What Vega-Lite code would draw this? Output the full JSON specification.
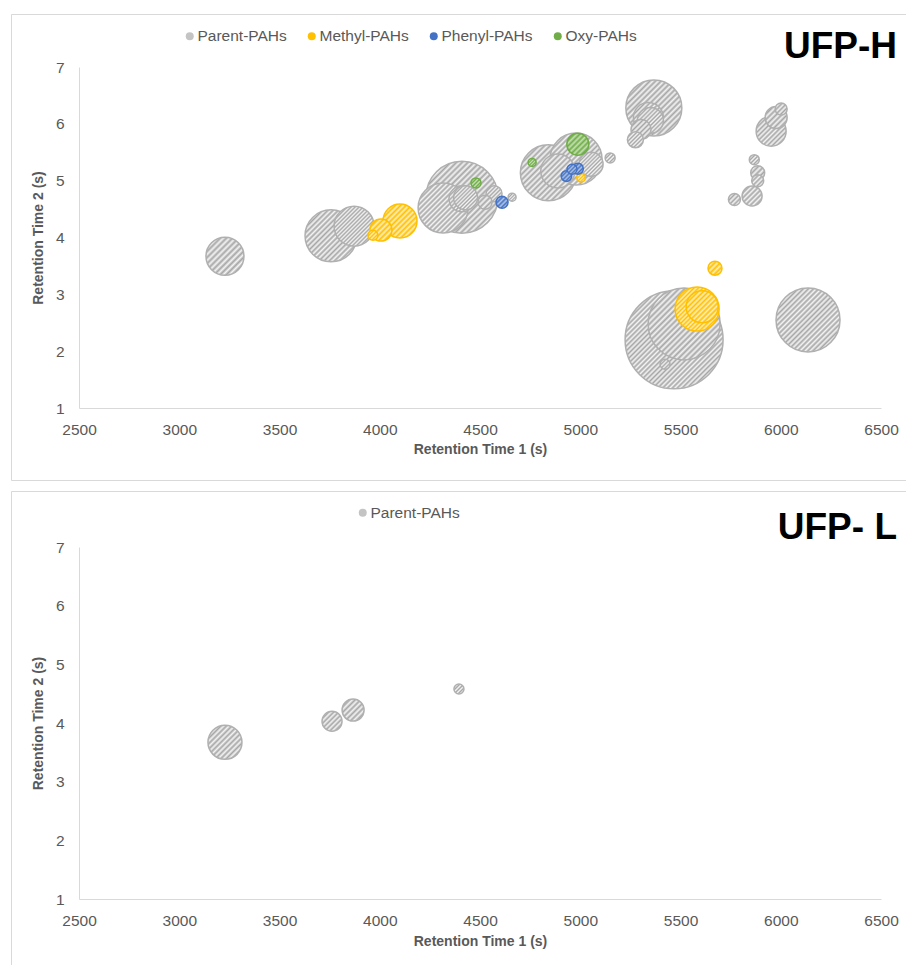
{
  "$schema": "https://vega.github.io/schema/vega-lite/v6.json",
  "background": "#ffffff",
  "padding": {"left": 10, "top": 13, "right": 0, "bottom": 0},
  "spacing": 9,
  "config": {
    "font": "Liberation Sans, Arial, sans-serif",
    "view": {"stroke": "#d9d9d9", "strokeWidth": 1},
    "axis": {
      "grid": false,
      "ticks": false,
      "tickSize": 0,
      "domainColor": "#d9d9d9",
      "domainWidth": 1,
      "labelFont": "Liberation Sans, Arial, sans-serif",
      "labelFontSize": 15.5,
      "labelColor": "#595959",
      "labelFlush": false,
      "labelOverlap": false,
      "titleFont": "Liberation Sans, Arial, sans-serif",
      "titleFontSize": 14,
      "titleFontWeight": "bold",
      "titleColor": "#595959"
    },
    "legend": {
      "labelFont": "Liberation Sans, Arial, sans-serif",
      "labelFontSize": 15.5,
      "labelColor": "#595959"
    }
  },
  "datasets": {
    "ufpH": [
      {"group": "Parent-PAHs", "rt1": 3228, "rt2": 3.67, "abundance": 3.61},
      {"group": "Parent-PAHs", "rt1": 3757, "rt2": 4.03, "abundance": 6.76},
      {"group": "Parent-PAHs", "rt1": 3872, "rt2": 4.2, "abundance": 4.0},
      {"group": "Parent-PAHs", "rt1": 4316, "rt2": 4.52, "abundance": 6.25},
      {"group": "Parent-PAHs", "rt1": 4410, "rt2": 4.71, "abundance": 12.96},
      {"group": "Parent-PAHs", "rt1": 4410, "rt2": 4.68, "abundance": 1.69},
      {"group": "Parent-PAHs", "rt1": 4428, "rt2": 4.7, "abundance": 1.44},
      {"group": "Parent-PAHs", "rt1": 4525, "rt2": 4.62, "abundance": 0.49},
      {"group": "Parent-PAHs", "rt1": 4570, "rt2": 4.77, "abundance": 0.64},
      {"group": "Parent-PAHs", "rt1": 4660, "rt2": 4.71, "abundance": 0.16},
      {"group": "Parent-PAHs", "rt1": 4841, "rt2": 5.14, "abundance": 7.84},
      {"group": "Parent-PAHs", "rt1": 4979, "rt2": 5.38, "abundance": 6.76},
      {"group": "Parent-PAHs", "rt1": 4888, "rt2": 5.17, "abundance": 2.89},
      {"group": "Parent-PAHs", "rt1": 5054, "rt2": 5.29, "abundance": 1.44},
      {"group": "Parent-PAHs", "rt1": 5149, "rt2": 5.4, "abundance": 0.25},
      {"group": "Parent-PAHs", "rt1": 5367, "rt2": 6.28, "abundance": 7.84},
      {"group": "Parent-PAHs", "rt1": 5340, "rt2": 6.11, "abundance": 2.25},
      {"group": "Parent-PAHs", "rt1": 5350, "rt2": 6.06, "abundance": 1.69},
      {"group": "Parent-PAHs", "rt1": 5303, "rt2": 5.9, "abundance": 1.0},
      {"group": "Parent-PAHs", "rt1": 5275, "rt2": 5.72, "abundance": 0.64},
      {"group": "Parent-PAHs", "rt1": 6002, "rt2": 6.26, "abundance": 0.36},
      {"group": "Parent-PAHs", "rt1": 5977, "rt2": 6.11, "abundance": 1.21},
      {"group": "Parent-PAHs", "rt1": 5952, "rt2": 5.87, "abundance": 2.25},
      {"group": "Parent-PAHs", "rt1": 5868, "rt2": 5.37, "abundance": 0.25},
      {"group": "Parent-PAHs", "rt1": 5885, "rt2": 5.14, "abundance": 0.49},
      {"group": "Parent-PAHs", "rt1": 5885, "rt2": 5.0, "abundance": 0.36},
      {"group": "Parent-PAHs", "rt1": 5857, "rt2": 4.73, "abundance": 1.0},
      {"group": "Parent-PAHs", "rt1": 5769, "rt2": 4.67, "abundance": 0.36},
      {"group": "Parent-PAHs", "rt1": 5468, "rt2": 2.2, "abundance": 24.0},
      {"group": "Parent-PAHs", "rt1": 5518, "rt2": 2.48, "abundance": 12.96},
      {"group": "Parent-PAHs", "rt1": 5423, "rt2": 1.77, "abundance": 0.25},
      {"group": "Parent-PAHs", "rt1": 6136, "rt2": 2.55, "abundance": 10.24},
      {"group": "Methyl-PAHs", "rt1": 3966, "rt2": 4.04, "abundance": 0.25},
      {"group": "Methyl-PAHs", "rt1": 4006, "rt2": 4.13, "abundance": 1.21},
      {"group": "Methyl-PAHs", "rt1": 4101, "rt2": 4.29, "abundance": 2.89},
      {"group": "Methyl-PAHs", "rt1": 5004, "rt2": 5.05, "abundance": 0.18},
      {"group": "Methyl-PAHs", "rt1": 5672, "rt2": 3.46, "abundance": 0.49},
      {"group": "Methyl-PAHs", "rt1": 5583, "rt2": 2.74, "abundance": 4.84},
      {"group": "Methyl-PAHs", "rt1": 5608, "rt2": 2.78, "abundance": 2.56},
      {"group": "Phenyl-PAHs", "rt1": 4610, "rt2": 4.62, "abundance": 0.36},
      {"group": "Phenyl-PAHs", "rt1": 4931, "rt2": 5.08, "abundance": 0.28},
      {"group": "Phenyl-PAHs", "rt1": 4959, "rt2": 5.2, "abundance": 0.25},
      {"group": "Phenyl-PAHs", "rt1": 4988, "rt2": 5.21, "abundance": 0.3},
      {"group": "Oxy-PAHs", "rt1": 4480, "rt2": 4.96, "abundance": 0.25},
      {"group": "Oxy-PAHs", "rt1": 4760, "rt2": 5.32, "abundance": 0.16},
      {"group": "Oxy-PAHs", "rt1": 4988, "rt2": 5.64, "abundance": 1.21}
    ],
    "ufpL": [
      {"group": "Parent-PAHs", "rt1": 3228, "rt2": 3.67, "abundance": 2.89},
      {"group": "Parent-PAHs", "rt1": 3762, "rt2": 4.03, "abundance": 1.0},
      {"group": "Parent-PAHs", "rt1": 3867, "rt2": 4.22, "abundance": 1.21},
      {"group": "Parent-PAHs", "rt1": 4395, "rt2": 4.58, "abundance": 0.25}
    ]
  },
  "resolve": {
    "scale": {"fill": "independent", "size": "independent"},
    "legend": {"fill": "independent"}
  },
  "vconcat": [
    {
      "width": 895,
      "height": 466,
      "title": {
        "text": "UFP-H",
        "anchor": "end",
        "frame": "group",
        "orient": "top",
        "offset": -47,
        "dx": -9,
        "dy": 34,
        "baseline": "alphabetic",
        "font": "Liberation Sans, Arial, sans-serif",
        "fontSize": 37,
        "fontWeight": "bold",
        "color": "#000000"
      },
      "data": {"name": "ufpH"},
      "encoding": {
        "x": {
          "field": "rt1",
          "type": "quantitative",
          "scale": {"domain": [2500, 6500], "range": [68, 870], "nice": false, "zero": false},
          "axis": {
            "title": "Retention Time 1 (s)",
            "offset": -72,
            "values": [2500, 3000, 3500, 4000, 4500, 5000, 5500, 6000, 6500],
            "format": "d",
            "labelPadding": 14,
            "titlePadding": 5
          }
        },
        "y": {
          "field": "rt2",
          "type": "quantitative",
          "scale": {"domain": [1, 7], "range": [394, 53], "nice": false, "zero": false},
          "axis": {
            "title": "Retention Time 2 (s)",
            "offset": -68,
            "values": [1, 2, 3, 4, 5, 6, 7],
            "format": "d",
            "labelPadding": 15,
            "titlePadding": 10
          }
        }
      },
      "layer": [
        {
          "transform": [{"filter": "false"}],
          "mark": {"type": "point", "shape": "circle", "filled": true, "opacity": 1},
          "encoding": {
            "fill": {
              "field": "group",
              "type": "nominal",
              "scale": {
                "domain": ["Parent-PAHs", "Methyl-PAHs", "Phenyl-PAHs", "Oxy-PAHs"],
                "range": ["#c4c4c4", "#ffc000", "#4472c4", "#70ad47"]
              },
              "legend": {
                "orient": "none",
                "legendX": 171,
                "legendY": 14,
                "direction": "horizontal",
                "title": null,
                "symbolType": "circle",
                "symbolSize": 64,
                "symbolStrokeWidth": 0,
                "labelOffset": 0,
                "columnPadding": 17
              }
            }
          }
        },
        {
          "transform": [{"filter": "datum.group === 'Parent-PAHs'"}],
          "mark": {"type": "point", "shape": "circle", "filled": true, "opacity": 1, "stroke": "#b0b0b0", "strokeWidth": 1.5},
          "encoding": {
            "size": {"field": "abundance", "type": "quantitative", "scale": {"domain": [0, 24], "range": [0, 9600], "zero": true}, "legend": null},
            "order": {"field": "abundance", "sort": "descending"},
            "fill": {
              "condition": [
                {"test": "datum.abundance >= 16", "value": {"gradient": "linear", "x1": 0, "y1": 0, "x2": 1, "y2": 1, "stops": [
                  {"offset": 0, "color": "#f4f4f4"}, {"offset": 0.0125, "color": "#a6a6a6"}, {"offset": 0.025, "color": "#f4f4f4"}, {"offset": 0.0375, "color": "#a6a6a6"},
                  {"offset": 0.05, "color": "#f4f4f4"}, {"offset": 0.0625, "color": "#a6a6a6"}, {"offset": 0.075, "color": "#f4f4f4"}, {"offset": 0.0875, "color": "#a6a6a6"},
                  {"offset": 0.1, "color": "#f4f4f4"}, {"offset": 0.1125, "color": "#a6a6a6"}, {"offset": 0.125, "color": "#f4f4f4"}, {"offset": 0.1375, "color": "#a6a6a6"},
                  {"offset": 0.15, "color": "#f4f4f4"}, {"offset": 0.1625, "color": "#a6a6a6"}, {"offset": 0.175, "color": "#f4f4f4"}, {"offset": 0.1875, "color": "#a6a6a6"},
                  {"offset": 0.2, "color": "#f4f4f4"}, {"offset": 0.2125, "color": "#a6a6a6"}, {"offset": 0.225, "color": "#f4f4f4"}, {"offset": 0.2375, "color": "#a6a6a6"},
                  {"offset": 0.25, "color": "#f4f4f4"}, {"offset": 0.2625, "color": "#a6a6a6"}, {"offset": 0.275, "color": "#f4f4f4"}, {"offset": 0.2875, "color": "#a6a6a6"},
                  {"offset": 0.3, "color": "#f4f4f4"}, {"offset": 0.3125, "color": "#a6a6a6"}, {"offset": 0.325, "color": "#f4f4f4"}, {"offset": 0.3375, "color": "#a6a6a6"},
                  {"offset": 0.35, "color": "#f4f4f4"}, {"offset": 0.3625, "color": "#a6a6a6"}, {"offset": 0.375, "color": "#f4f4f4"}, {"offset": 0.3875, "color": "#a6a6a6"},
                  {"offset": 0.4, "color": "#f4f4f4"}, {"offset": 0.4125, "color": "#a6a6a6"}, {"offset": 0.425, "color": "#f4f4f4"}, {"offset": 0.4375, "color": "#a6a6a6"},
                  {"offset": 0.45, "color": "#f4f4f4"}, {"offset": 0.4625, "color": "#a6a6a6"}, {"offset": 0.475, "color": "#f4f4f4"}, {"offset": 0.4875, "color": "#a6a6a6"},
                  {"offset": 0.5, "color": "#f4f4f4"}, {"offset": 0.5125, "color": "#a6a6a6"}, {"offset": 0.525, "color": "#f4f4f4"}, {"offset": 0.5375, "color": "#a6a6a6"},
                  {"offset": 0.55, "color": "#f4f4f4"}, {"offset": 0.5625, "color": "#a6a6a6"}, {"offset": 0.575, "color": "#f4f4f4"}, {"offset": 0.5875, "color": "#a6a6a6"},
                  {"offset": 0.6, "color": "#f4f4f4"}, {"offset": 0.6125, "color": "#a6a6a6"}, {"offset": 0.625, "color": "#f4f4f4"}, {"offset": 0.6375, "color": "#a6a6a6"},
                  {"offset": 0.65, "color": "#f4f4f4"}, {"offset": 0.6625, "color": "#a6a6a6"}, {"offset": 0.675, "color": "#f4f4f4"}, {"offset": 0.6875, "color": "#a6a6a6"},
                  {"offset": 0.7, "color": "#f4f4f4"}, {"offset": 0.7125, "color": "#a6a6a6"}, {"offset": 0.725, "color": "#f4f4f4"}, {"offset": 0.7375, "color": "#a6a6a6"},
                  {"offset": 0.75, "color": "#f4f4f4"}, {"offset": 0.7625, "color": "#a6a6a6"}, {"offset": 0.775, "color": "#f4f4f4"}, {"offset": 0.7875, "color": "#a6a6a6"},
                  {"offset": 0.8, "color": "#f4f4f4"}, {"offset": 0.8125, "color": "#a6a6a6"}, {"offset": 0.825, "color": "#f4f4f4"}, {"offset": 0.8375, "color": "#a6a6a6"},
                  {"offset": 0.85, "color": "#f4f4f4"}, {"offset": 0.8625, "color": "#a6a6a6"}, {"offset": 0.875, "color": "#f4f4f4"}, {"offset": 0.8875, "color": "#a6a6a6"},
                  {"offset": 0.9, "color": "#f4f4f4"}, {"offset": 0.9125, "color": "#a6a6a6"}, {"offset": 0.925, "color": "#f4f4f4"}, {"offset": 0.9375, "color": "#a6a6a6"},
                  {"offset": 0.95, "color": "#f4f4f4"}, {"offset": 0.9625, "color": "#a6a6a6"}, {"offset": 0.975, "color": "#f4f4f4"}, {"offset": 0.9875, "color": "#a6a6a6"},
                  {"offset": 1, "color": "#f4f4f4"}]}},
                {"test": "datum.abundance >= 9", "value": {"gradient": "linear", "x1": 0, "y1": 0, "x2": 1, "y2": 1, "stops": [
                  {"offset": 0, "color": "#f4f4f4"}, {"offset": 0.02, "color": "#a6a6a6"}, {"offset": 0.04, "color": "#f4f4f4"}, {"offset": 0.06, "color": "#a6a6a6"},
                  {"offset": 0.08, "color": "#f4f4f4"}, {"offset": 0.1, "color": "#a6a6a6"}, {"offset": 0.12, "color": "#f4f4f4"}, {"offset": 0.14, "color": "#a6a6a6"},
                  {"offset": 0.16, "color": "#f4f4f4"}, {"offset": 0.18, "color": "#a6a6a6"}, {"offset": 0.2, "color": "#f4f4f4"}, {"offset": 0.22, "color": "#a6a6a6"},
                  {"offset": 0.24, "color": "#f4f4f4"}, {"offset": 0.26, "color": "#a6a6a6"}, {"offset": 0.28, "color": "#f4f4f4"}, {"offset": 0.3, "color": "#a6a6a6"},
                  {"offset": 0.32, "color": "#f4f4f4"}, {"offset": 0.34, "color": "#a6a6a6"}, {"offset": 0.36, "color": "#f4f4f4"}, {"offset": 0.38, "color": "#a6a6a6"},
                  {"offset": 0.4, "color": "#f4f4f4"}, {"offset": 0.42, "color": "#a6a6a6"}, {"offset": 0.44, "color": "#f4f4f4"}, {"offset": 0.46, "color": "#a6a6a6"},
                  {"offset": 0.48, "color": "#f4f4f4"}, {"offset": 0.5, "color": "#a6a6a6"}, {"offset": 0.52, "color": "#f4f4f4"}, {"offset": 0.54, "color": "#a6a6a6"},
                  {"offset": 0.56, "color": "#f4f4f4"}, {"offset": 0.58, "color": "#a6a6a6"}, {"offset": 0.6, "color": "#f4f4f4"}, {"offset": 0.62, "color": "#a6a6a6"},
                  {"offset": 0.64, "color": "#f4f4f4"}, {"offset": 0.66, "color": "#a6a6a6"}, {"offset": 0.68, "color": "#f4f4f4"}, {"offset": 0.7, "color": "#a6a6a6"},
                  {"offset": 0.72, "color": "#f4f4f4"}, {"offset": 0.74, "color": "#a6a6a6"}, {"offset": 0.76, "color": "#f4f4f4"}, {"offset": 0.78, "color": "#a6a6a6"},
                  {"offset": 0.8, "color": "#f4f4f4"}, {"offset": 0.82, "color": "#a6a6a6"}, {"offset": 0.84, "color": "#f4f4f4"}, {"offset": 0.86, "color": "#a6a6a6"},
                  {"offset": 0.88, "color": "#f4f4f4"}, {"offset": 0.9, "color": "#a6a6a6"}, {"offset": 0.92, "color": "#f4f4f4"}, {"offset": 0.94, "color": "#a6a6a6"},
                  {"offset": 0.96, "color": "#f4f4f4"}, {"offset": 0.98, "color": "#a6a6a6"}, {"offset": 1, "color": "#f4f4f4"}]}},
                {"test": "datum.abundance >= 4", "value": {"gradient": "linear", "x1": 0, "y1": 0, "x2": 1, "y2": 1, "stops": [
                  {"offset": 0, "color": "#f4f4f4"}, {"offset": 0.025, "color": "#a6a6a6"}, {"offset": 0.05, "color": "#f4f4f4"}, {"offset": 0.075, "color": "#a6a6a6"},
                  {"offset": 0.1, "color": "#f4f4f4"}, {"offset": 0.125, "color": "#a6a6a6"}, {"offset": 0.15, "color": "#f4f4f4"}, {"offset": 0.175, "color": "#a6a6a6"},
                  {"offset": 0.2, "color": "#f4f4f4"}, {"offset": 0.225, "color": "#a6a6a6"}, {"offset": 0.25, "color": "#f4f4f4"}, {"offset": 0.275, "color": "#a6a6a6"},
                  {"offset": 0.3, "color": "#f4f4f4"}, {"offset": 0.325, "color": "#a6a6a6"}, {"offset": 0.35, "color": "#f4f4f4"}, {"offset": 0.375, "color": "#a6a6a6"},
                  {"offset": 0.4, "color": "#f4f4f4"}, {"offset": 0.425, "color": "#a6a6a6"}, {"offset": 0.45, "color": "#f4f4f4"}, {"offset": 0.475, "color": "#a6a6a6"},
                  {"offset": 0.5, "color": "#f4f4f4"}, {"offset": 0.525, "color": "#a6a6a6"}, {"offset": 0.55, "color": "#f4f4f4"}, {"offset": 0.575, "color": "#a6a6a6"},
                  {"offset": 0.6, "color": "#f4f4f4"}, {"offset": 0.625, "color": "#a6a6a6"}, {"offset": 0.65, "color": "#f4f4f4"}, {"offset": 0.675, "color": "#a6a6a6"},
                  {"offset": 0.7, "color": "#f4f4f4"}, {"offset": 0.725, "color": "#a6a6a6"}, {"offset": 0.75, "color": "#f4f4f4"}, {"offset": 0.775, "color": "#a6a6a6"},
                  {"offset": 0.8, "color": "#f4f4f4"}, {"offset": 0.825, "color": "#a6a6a6"}, {"offset": 0.85, "color": "#f4f4f4"}, {"offset": 0.875, "color": "#a6a6a6"},
                  {"offset": 0.9, "color": "#f4f4f4"}, {"offset": 0.925, "color": "#a6a6a6"}, {"offset": 0.95, "color": "#f4f4f4"}, {"offset": 0.975, "color": "#a6a6a6"},
                  {"offset": 1, "color": "#f4f4f4"}]}},
                {"test": "datum.abundance >= 1.44", "value": {"gradient": "linear", "x1": 0, "y1": 0, "x2": 1, "y2": 1, "stops": [
                  {"offset": 0, "color": "#f4f4f4"}, {"offset": 0.04, "color": "#a6a6a6"}, {"offset": 0.08, "color": "#f4f4f4"}, {"offset": 0.12, "color": "#a6a6a6"},
                  {"offset": 0.16, "color": "#f4f4f4"}, {"offset": 0.2, "color": "#a6a6a6"}, {"offset": 0.24, "color": "#f4f4f4"}, {"offset": 0.28, "color": "#a6a6a6"},
                  {"offset": 0.32, "color": "#f4f4f4"}, {"offset": 0.36, "color": "#a6a6a6"}, {"offset": 0.4, "color": "#f4f4f4"}, {"offset": 0.44, "color": "#a6a6a6"},
                  {"offset": 0.48, "color": "#f4f4f4"}, {"offset": 0.52, "color": "#a6a6a6"}, {"offset": 0.56, "color": "#f4f4f4"}, {"offset": 0.6, "color": "#a6a6a6"},
                  {"offset": 0.64, "color": "#f4f4f4"}, {"offset": 0.68, "color": "#a6a6a6"}, {"offset": 0.72, "color": "#f4f4f4"}, {"offset": 0.76, "color": "#a6a6a6"},
                  {"offset": 0.8, "color": "#f4f4f4"}, {"offset": 0.84, "color": "#a6a6a6"}, {"offset": 0.88, "color": "#f4f4f4"}, {"offset": 0.92, "color": "#a6a6a6"},
                  {"offset": 0.96, "color": "#f4f4f4"}, {"offset": 1, "color": "#a6a6a6"}]}},
                {"test": "datum.abundance >= 0.64", "value": {"gradient": "linear", "x1": 0, "y1": 0, "x2": 1, "y2": 1, "stops": [
                  {"offset": 0, "color": "#f4f4f4"}, {"offset": 0.0625, "color": "#a6a6a6"}, {"offset": 0.125, "color": "#f4f4f4"}, {"offset": 0.1875, "color": "#a6a6a6"},
                  {"offset": 0.25, "color": "#f4f4f4"}, {"offset": 0.3125, "color": "#a6a6a6"}, {"offset": 0.375, "color": "#f4f4f4"}, {"offset": 0.4375, "color": "#a6a6a6"},
                  {"offset": 0.5, "color": "#f4f4f4"}, {"offset": 0.5625, "color": "#a6a6a6"}, {"offset": 0.625, "color": "#f4f4f4"}, {"offset": 0.6875, "color": "#a6a6a6"},
                  {"offset": 0.75, "color": "#f4f4f4"}, {"offset": 0.8125, "color": "#a6a6a6"}, {"offset": 0.875, "color": "#f4f4f4"}, {"offset": 0.9375, "color": "#a6a6a6"},
                  {"offset": 1, "color": "#f4f4f4"}]}}
              ],
              "value": {"gradient": "linear", "x1": 0, "y1": 0, "x2": 1, "y2": 1, "stops": [
                {"offset": 0, "color": "#f4f4f4"}, {"offset": 0.1, "color": "#a6a6a6"}, {"offset": 0.2, "color": "#f4f4f4"}, {"offset": 0.3, "color": "#a6a6a6"},
                {"offset": 0.4, "color": "#f4f4f4"}, {"offset": 0.5, "color": "#a6a6a6"}, {"offset": 0.6, "color": "#f4f4f4"}, {"offset": 0.7, "color": "#a6a6a6"},
                {"offset": 0.8, "color": "#f4f4f4"}, {"offset": 0.9, "color": "#a6a6a6"}, {"offset": 1, "color": "#f4f4f4"}]}
            }
          }
        },
        {
          "transform": [{"filter": "datum.group === 'Methyl-PAHs'"}],
          "mark": {"type": "point", "shape": "circle", "filled": true, "opacity": 1, "stroke": "#ffc000", "strokeWidth": 1.5},
          "encoding": {
            "size": {"field": "abundance", "type": "quantitative", "scale": {"domain": [0, 24], "range": [0, 9600], "zero": true}, "legend": null},
            "order": {"field": "abundance", "sort": "descending"},
            "fill": {
              "condition": [
                {"test": "datum.abundance >= 4", "value": {"gradient": "linear", "x1": 0, "y1": 0, "x2": 1, "y2": 1, "stops": [
                  {"offset": 0, "color": "#ffefbf"}, {"offset": 0.025, "color": "#ffc000"}, {"offset": 0.05, "color": "#ffefbf"}, {"offset": 0.075, "color": "#ffc000"},
                  {"offset": 0.1, "color": "#ffefbf"}, {"offset": 0.125, "color": "#ffc000"}, {"offset": 0.15, "color": "#ffefbf"}, {"offset": 0.175, "color": "#ffc000"},
                  {"offset": 0.2, "color": "#ffefbf"}, {"offset": 0.225, "color": "#ffc000"}, {"offset": 0.25, "color": "#ffefbf"}, {"offset": 0.275, "color": "#ffc000"},
                  {"offset": 0.3, "color": "#ffefbf"}, {"offset": 0.325, "color": "#ffc000"}, {"offset": 0.35, "color": "#ffefbf"}, {"offset": 0.375, "color": "#ffc000"},
                  {"offset": 0.4, "color": "#ffefbf"}, {"offset": 0.425, "color": "#ffc000"}, {"offset": 0.45, "color": "#ffefbf"}, {"offset": 0.475, "color": "#ffc000"},
                  {"offset": 0.5, "color": "#ffefbf"}, {"offset": 0.525, "color": "#ffc000"}, {"offset": 0.55, "color": "#ffefbf"}, {"offset": 0.575, "color": "#ffc000"},
                  {"offset": 0.6, "color": "#ffefbf"}, {"offset": 0.625, "color": "#ffc000"}, {"offset": 0.65, "color": "#ffefbf"}, {"offset": 0.675, "color": "#ffc000"},
                  {"offset": 0.7, "color": "#ffefbf"}, {"offset": 0.725, "color": "#ffc000"}, {"offset": 0.75, "color": "#ffefbf"}, {"offset": 0.775, "color": "#ffc000"},
                  {"offset": 0.8, "color": "#ffefbf"}, {"offset": 0.825, "color": "#ffc000"}, {"offset": 0.85, "color": "#ffefbf"}, {"offset": 0.875, "color": "#ffc000"},
                  {"offset": 0.9, "color": "#ffefbf"}, {"offset": 0.925, "color": "#ffc000"}, {"offset": 0.95, "color": "#ffefbf"}, {"offset": 0.975, "color": "#ffc000"},
                  {"offset": 1, "color": "#ffefbf"}]}},
                {"test": "datum.abundance >= 1.44", "value": {"gradient": "linear", "x1": 0, "y1": 0, "x2": 1, "y2": 1, "stops": [
                  {"offset": 0, "color": "#ffefbf"}, {"offset": 0.04, "color": "#ffc000"}, {"offset": 0.08, "color": "#ffefbf"}, {"offset": 0.12, "color": "#ffc000"},
                  {"offset": 0.16, "color": "#ffefbf"}, {"offset": 0.2, "color": "#ffc000"}, {"offset": 0.24, "color": "#ffefbf"}, {"offset": 0.28, "color": "#ffc000"},
                  {"offset": 0.32, "color": "#ffefbf"}, {"offset": 0.36, "color": "#ffc000"}, {"offset": 0.4, "color": "#ffefbf"}, {"offset": 0.44, "color": "#ffc000"},
                  {"offset": 0.48, "color": "#ffefbf"}, {"offset": 0.52, "color": "#ffc000"}, {"offset": 0.56, "color": "#ffefbf"}, {"offset": 0.6, "color": "#ffc000"},
                  {"offset": 0.64, "color": "#ffefbf"}, {"offset": 0.68, "color": "#ffc000"}, {"offset": 0.72, "color": "#ffefbf"}, {"offset": 0.76, "color": "#ffc000"},
                  {"offset": 0.8, "color": "#ffefbf"}, {"offset": 0.84, "color": "#ffc000"}, {"offset": 0.88, "color": "#ffefbf"}, {"offset": 0.92, "color": "#ffc000"},
                  {"offset": 0.96, "color": "#ffefbf"}, {"offset": 1, "color": "#ffc000"}]}},
                {"test": "datum.abundance >= 0.64", "value": {"gradient": "linear", "x1": 0, "y1": 0, "x2": 1, "y2": 1, "stops": [
                  {"offset": 0, "color": "#ffefbf"}, {"offset": 0.0625, "color": "#ffc000"}, {"offset": 0.125, "color": "#ffefbf"}, {"offset": 0.1875, "color": "#ffc000"},
                  {"offset": 0.25, "color": "#ffefbf"}, {"offset": 0.3125, "color": "#ffc000"}, {"offset": 0.375, "color": "#ffefbf"}, {"offset": 0.4375, "color": "#ffc000"},
                  {"offset": 0.5, "color": "#ffefbf"}, {"offset": 0.5625, "color": "#ffc000"}, {"offset": 0.625, "color": "#ffefbf"}, {"offset": 0.6875, "color": "#ffc000"},
                  {"offset": 0.75, "color": "#ffefbf"}, {"offset": 0.8125, "color": "#ffc000"}, {"offset": 0.875, "color": "#ffefbf"}, {"offset": 0.9375, "color": "#ffc000"},
                  {"offset": 1, "color": "#ffefbf"}]}}
              ],
              "value": {"gradient": "linear", "x1": 0, "y1": 0, "x2": 1, "y2": 1, "stops": [
                {"offset": 0, "color": "#ffefbf"}, {"offset": 0.1, "color": "#ffc000"}, {"offset": 0.2, "color": "#ffefbf"}, {"offset": 0.3, "color": "#ffc000"},
                {"offset": 0.4, "color": "#ffefbf"}, {"offset": 0.5, "color": "#ffc000"}, {"offset": 0.6, "color": "#ffefbf"}, {"offset": 0.7, "color": "#ffc000"},
                {"offset": 0.8, "color": "#ffefbf"}, {"offset": 0.9, "color": "#ffc000"}, {"offset": 1, "color": "#ffefbf"}]}
            }
          }
        },
        {
          "transform": [{"filter": "datum.group === 'Phenyl-PAHs'"}],
          "mark": {"type": "point", "shape": "circle", "filled": true, "opacity": 1, "stroke": "#4472c4", "strokeWidth": 1.5},
          "encoding": {
            "size": {"field": "abundance", "type": "quantitative", "scale": {"domain": [0, 24], "range": [0, 9600], "zero": true}, "legend": null},
            "order": {"field": "abundance", "sort": "descending"},
            "fill": {
              "value": {"gradient": "linear", "x1": 0, "y1": 0, "x2": 1, "y2": 1, "stops": [
                {"offset": 0, "color": "#b4c7e7"}, {"offset": 0.1, "color": "#4472c4"}, {"offset": 0.2, "color": "#b4c7e7"}, {"offset": 0.3, "color": "#4472c4"},
                {"offset": 0.4, "color": "#b4c7e7"}, {"offset": 0.5, "color": "#4472c4"}, {"offset": 0.6, "color": "#b4c7e7"}, {"offset": 0.7, "color": "#4472c4"},
                {"offset": 0.8, "color": "#b4c7e7"}, {"offset": 0.9, "color": "#4472c4"}, {"offset": 1, "color": "#b4c7e7"}]}
            }
          }
        },
        {
          "transform": [{"filter": "datum.group === 'Oxy-PAHs'"}],
          "mark": {"type": "point", "shape": "circle", "filled": true, "opacity": 1, "stroke": "#70ad47", "strokeWidth": 1.5},
          "encoding": {
            "size": {"field": "abundance", "type": "quantitative", "scale": {"domain": [0, 24], "range": [0, 9600], "zero": true}, "legend": null},
            "order": {"field": "abundance", "sort": "descending"},
            "fill": {
              "condition": [
                {"test": "datum.abundance >= 0.64", "value": {"gradient": "linear", "x1": 0, "y1": 0, "x2": 1, "y2": 1, "stops": [
                  {"offset": 0, "color": "#c5e0b4"}, {"offset": 0.0625, "color": "#70ad47"}, {"offset": 0.125, "color": "#c5e0b4"}, {"offset": 0.1875, "color": "#70ad47"},
                  {"offset": 0.25, "color": "#c5e0b4"}, {"offset": 0.3125, "color": "#70ad47"}, {"offset": 0.375, "color": "#c5e0b4"}, {"offset": 0.4375, "color": "#70ad47"},
                  {"offset": 0.5, "color": "#c5e0b4"}, {"offset": 0.5625, "color": "#70ad47"}, {"offset": 0.625, "color": "#c5e0b4"}, {"offset": 0.6875, "color": "#70ad47"},
                  {"offset": 0.75, "color": "#c5e0b4"}, {"offset": 0.8125, "color": "#70ad47"}, {"offset": 0.875, "color": "#c5e0b4"}, {"offset": 0.9375, "color": "#70ad47"},
                  {"offset": 1, "color": "#c5e0b4"}]}}
              ],
              "value": {"gradient": "linear", "x1": 0, "y1": 0, "x2": 1, "y2": 1, "stops": [
                {"offset": 0, "color": "#c5e0b4"}, {"offset": 0.1, "color": "#70ad47"}, {"offset": 0.2, "color": "#c5e0b4"}, {"offset": 0.3, "color": "#70ad47"},
                {"offset": 0.4, "color": "#c5e0b4"}, {"offset": 0.5, "color": "#70ad47"}, {"offset": 0.6, "color": "#c5e0b4"}, {"offset": 0.7, "color": "#70ad47"},
                {"offset": 0.8, "color": "#c5e0b4"}, {"offset": 0.9, "color": "#70ad47"}, {"offset": 1, "color": "#c5e0b4"}]}
            }
          }
        }
      ]
    },
    {
      "width": 895,
      "height": 476,
      "title": {
        "text": "UFP- L",
        "anchor": "end",
        "frame": "group",
        "orient": "top",
        "offset": -54,
        "dx": -9,
        "dy": 31,
        "baseline": "alphabetic",
        "font": "Liberation Sans, Arial, sans-serif",
        "fontSize": 37,
        "fontWeight": "bold",
        "color": "#000000"
      },
      "data": {"name": "ufpL"},
      "encoding": {
        "x": {
          "field": "rt1",
          "type": "quantitative",
          "scale": {"domain": [2500, 6500], "range": [68, 870], "nice": false, "zero": false},
          "axis": {
            "title": "Retention Time 1 (s)",
            "offset": -68,
            "values": [2500, 3000, 3500, 4000, 4500, 5000, 5500, 6000, 6500],
            "format": "d",
            "labelPadding": 14,
            "titlePadding": 6
          }
        },
        "y": {
          "field": "rt2",
          "type": "quantitative",
          "scale": {"domain": [1, 7], "range": [408, 56], "nice": false, "zero": false},
          "axis": {
            "title": "Retention Time 2 (s)",
            "offset": -68,
            "values": [1, 2, 3, 4, 5, 6, 7],
            "format": "d",
            "labelPadding": 15,
            "titlePadding": 10
          }
        }
      },
      "layer": [
        {
          "transform": [{"filter": "false"}],
          "mark": {"type": "point", "shape": "circle", "filled": true, "opacity": 1},
          "encoding": {
            "fill": {
              "field": "group",
              "type": "nominal",
              "scale": {"domain": ["Parent-PAHs"], "range": ["#c4c4c4"]},
              "legend": {
                "orient": "none",
                "legendX": 344,
                "legendY": 14,
                "direction": "horizontal",
                "title": null,
                "symbolType": "circle",
                "symbolSize": 64,
                "symbolStrokeWidth": 0,
                "labelOffset": 0,
                "columnPadding": 17
              }
            }
          }
        },
        {
          "mark": {"type": "point", "shape": "circle", "filled": true, "opacity": 1, "stroke": "#b0b0b0", "strokeWidth": 1.5},
          "encoding": {
            "size": {"field": "abundance", "type": "quantitative", "scale": {"domain": [0, 24], "range": [0, 9600], "zero": true}, "legend": null},
            "order": {"field": "abundance", "sort": "descending"},
            "fill": {
              "condition": [
                {"test": "datum.abundance >= 1.44", "value": {"gradient": "linear", "x1": 0, "y1": 0, "x2": 1, "y2": 1, "stops": [
                  {"offset": 0, "color": "#f4f4f4"}, {"offset": 0.04, "color": "#a6a6a6"}, {"offset": 0.08, "color": "#f4f4f4"}, {"offset": 0.12, "color": "#a6a6a6"},
                  {"offset": 0.16, "color": "#f4f4f4"}, {"offset": 0.2, "color": "#a6a6a6"}, {"offset": 0.24, "color": "#f4f4f4"}, {"offset": 0.28, "color": "#a6a6a6"},
                  {"offset": 0.32, "color": "#f4f4f4"}, {"offset": 0.36, "color": "#a6a6a6"}, {"offset": 0.4, "color": "#f4f4f4"}, {"offset": 0.44, "color": "#a6a6a6"},
                  {"offset": 0.48, "color": "#f4f4f4"}, {"offset": 0.52, "color": "#a6a6a6"}, {"offset": 0.56, "color": "#f4f4f4"}, {"offset": 0.6, "color": "#a6a6a6"},
                  {"offset": 0.64, "color": "#f4f4f4"}, {"offset": 0.68, "color": "#a6a6a6"}, {"offset": 0.72, "color": "#f4f4f4"}, {"offset": 0.76, "color": "#a6a6a6"},
                  {"offset": 0.8, "color": "#f4f4f4"}, {"offset": 0.84, "color": "#a6a6a6"}, {"offset": 0.88, "color": "#f4f4f4"}, {"offset": 0.92, "color": "#a6a6a6"},
                  {"offset": 0.96, "color": "#f4f4f4"}, {"offset": 1, "color": "#a6a6a6"}]}},
                {"test": "datum.abundance >= 0.64", "value": {"gradient": "linear", "x1": 0, "y1": 0, "x2": 1, "y2": 1, "stops": [
                  {"offset": 0, "color": "#f4f4f4"}, {"offset": 0.0625, "color": "#a6a6a6"}, {"offset": 0.125, "color": "#f4f4f4"}, {"offset": 0.1875, "color": "#a6a6a6"},
                  {"offset": 0.25, "color": "#f4f4f4"}, {"offset": 0.3125, "color": "#a6a6a6"}, {"offset": 0.375, "color": "#f4f4f4"}, {"offset": 0.4375, "color": "#a6a6a6"},
                  {"offset": 0.5, "color": "#f4f4f4"}, {"offset": 0.5625, "color": "#a6a6a6"}, {"offset": 0.625, "color": "#f4f4f4"}, {"offset": 0.6875, "color": "#a6a6a6"},
                  {"offset": 0.75, "color": "#f4f4f4"}, {"offset": 0.8125, "color": "#a6a6a6"}, {"offset": 0.875, "color": "#f4f4f4"}, {"offset": 0.9375, "color": "#a6a6a6"},
                  {"offset": 1, "color": "#f4f4f4"}]}}
              ],
              "value": {"gradient": "linear", "x1": 0, "y1": 0, "x2": 1, "y2": 1, "stops": [
                {"offset": 0, "color": "#f4f4f4"}, {"offset": 0.1, "color": "#a6a6a6"}, {"offset": 0.2, "color": "#f4f4f4"}, {"offset": 0.3, "color": "#a6a6a6"},
                {"offset": 0.4, "color": "#f4f4f4"}, {"offset": 0.5, "color": "#a6a6a6"}, {"offset": 0.6, "color": "#f4f4f4"}, {"offset": 0.7, "color": "#a6a6a6"},
                {"offset": 0.8, "color": "#f4f4f4"}, {"offset": 0.9, "color": "#a6a6a6"}, {"offset": 1, "color": "#f4f4f4"}]}
            }
          }
        }
      ]
    }
  ]
}
